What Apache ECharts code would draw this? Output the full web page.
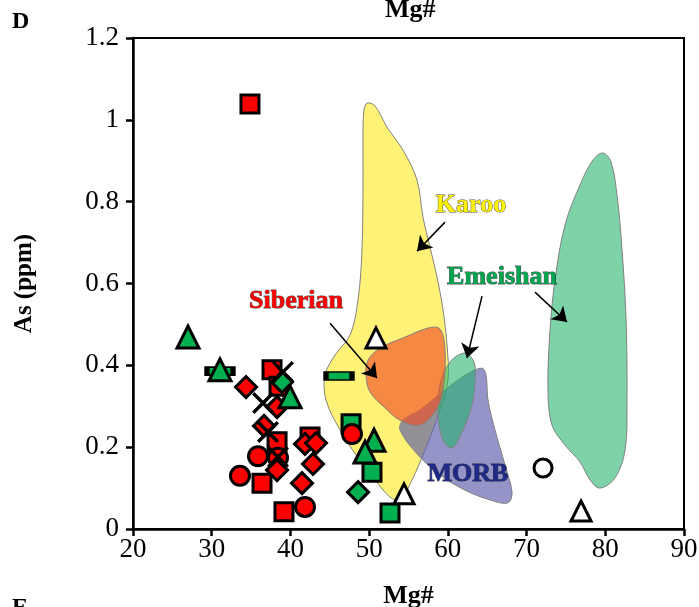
<!DOCTYPE html>
<html><head><meta charset="utf-8">
<script src="https://cdn.jsdelivr.net/npm/echarts@6/dist/echarts.min.js"></script>
<style>html,body{margin:0;padding:0;background:#fff}#c{width:699px;height:607px}</style>
</head><body><div id="c"></div>
<script>
// ---------- data (Mg#, As ppm) ----------
const redSquares   = [[34.86,1.039],[37.66,0.389],[38.55,0.349],[38.30,0.213],[36.39,0.112],[39.18,0.042],[42.49,0.225]];
const redCircles   = [[33.59,0.130],[35.88,0.178],[38.42,0.174],[47.82,0.232],[41.85,0.054]];
const redDiamonds  = [[34.36,0.347],[38.30,0.298],[36.64,0.252],[38.30,0.144],[41.85,0.208],[43.25,0.210],[42.87,0.159],[41.47,0.112]];
const greenSquares = [[47.70,0.257],[50.36,0.139],[52.65,0.039]];
const greenDashes  = [[46.17,0.374],[31.05,0.386]];
const greenTriangles = [[26.99,0.469],[31.05,0.389],[39.95,0.323],[50.62,0.217],[49.48,0.188]];
const greenDiamonds = [[38.93,0.359],[48.59,0.090]];
const crosses      = [[39.06,0.384],[36.52,0.308],[37.15,0.237],[38.42,0.176]];
const whiteTriangles = [[50.87,0.467],[54.43,0.086],[76.92,0.044]];
const whiteCircles = [[72.09,0.149]];

// field outlines
const karooField = [[49.22,0.975],[49.35,1.024],[49.73,1.041],[50.75,1.034],[52.27,0.982],[54.30,0.926],[56.08,0.853],[56.84,0.762],[57.73,0.689],[58.62,0.616],[59.39,0.535],[59.89,0.450],[60.02,0.364],[59.00,0.291],[57.10,0.193],[55.45,0.120],[53.92,0.071],[52.65,0.078],[50.75,0.120],[48.59,0.174],[46.30,0.242],[44.52,0.315],[44.39,0.376],[45.66,0.425],[47.57,0.474],[48.59,0.560],[49.09,0.682],[49.22,0.853]];
const siberianField = [[59.00,0.489],[59.64,0.437],[59.39,0.340],[58.50,0.291],[56.46,0.254],[53.92,0.266],[52.02,0.296],[50.11,0.335],[49.60,0.376],[49.86,0.413],[51.38,0.442],[54.56,0.469],[57.48,0.491]];
const emeishanSmall = [[62.18,0.430],[63.32,0.408],[63.45,0.364],[63.07,0.303],[61.80,0.237],[60.53,0.198],[59.39,0.217],[58.75,0.279],[59.00,0.352],[60.27,0.408]];
const morbField = [[64.34,0.393],[64.85,0.376],[65.10,0.315],[65.99,0.242],[67.26,0.156],[68.15,0.090],[67.64,0.064],[65.36,0.071],[62.18,0.095],[59.00,0.132],[56.21,0.181],[53.92,0.242],[54.30,0.266],[56.46,0.291],[59.64,0.340],[62.18,0.376]];
const emeishanLarge = [[79.71,0.919],[80.73,0.897],[81.49,0.816],[82.13,0.682],[82.64,0.511],[82.76,0.315],[82.51,0.193],[81.24,0.125],[79.33,0.100],[78.06,0.120],[76.79,0.164],[74.88,0.205],[73.23,0.254],[72.72,0.340],[72.98,0.486],[73.61,0.608],[74.88,0.743],[76.79,0.841],[78.44,0.902]];

// labels and arrows
const labelNames  = ['Karoo','Emeishan','Siberian','MORB'];
const labelPos    = [[62.94,0.792],[66.88,0.616],[40.71,0.557],[62.56,0.134]];
const labelColors = ['#FFF200','#00A550','#FF0000','#1F2A8A'];
const arrows = [[59.64,0.750,56.08,0.679],[45.03,0.503,51.0,0.369],[64.34,0.569,62.43,0.418],[71.07,0.579,75.14,0.506]];

const xTicks = [20,30,40,50,60,70,80,90];
const yTicks = [0,0.2,0.4,0.6,0.8,1,1.2];

const SERIF = '"Liberation Serif","Times New Roman",serif';
const chart = echarts.init(document.getElementById('c'), null, {renderer:'canvas'});

function field(pts, fill, z){
  return {type:'custom', z:z, silent:true, clip:true,
    renderItem:(params, api)=>({type:'polygon',
      shape:{points: pts.map(p=>api.coord(p)), smooth:0.35},
      style:{fill:fill, stroke:'#808080', lineWidth:1}}),
    data:[pts[0]]};
}
const crossPath = 'path://M0,1.1L1.1,0L10,8.9L8.9,10ZM8.9,0L10,1.1L1.1,10L0,8.9Z';
function sc(data, symbol, size, color, z, bw){
  return {type:'scatter', data:data, symbol:symbol, symbolSize:size, z:z, silent:true,
    itemStyle:{color:color, borderColor:'#000', borderWidth: bw===undefined?3:bw, opacity:1}};
}

chart.setOption({
  animation:false,
  grid:{left:133, right:15, top:38, bottom:78, outerBoundsMode:'none', containLabel:false,
    show:true, borderColor:'#000', borderWidth:2, backgroundColor:'transparent'},
  xAxis:{type:'value', min:xTicks[0], max:xTicks[xTicks.length-1], interval:10,
    name:'Mg#', nameLocation:'middle', nameGap:54,
    nameTextStyle:{fontFamily:SERIF, fontWeight:'bold', fontSize:26, color:'#000'},
    axisLine:{show:true, lineStyle:{color:'#000', width:2.5}},
    axisTick:{show:true, inside:false, length:7, lineStyle:{color:'#000', width:2.5}},
    axisLabel:{fontFamily:SERIF, fontSize:27, color:'#000', margin:7},
    splitLine:{show:false}},
  yAxis:{type:'value', min:yTicks[0], max:yTicks[yTicks.length-1], interval:0.2,
    name:'As (ppm)', nameLocation:'middle', nameGap:96, nameRotate:90,
    nameTextStyle:{fontFamily:SERIF, fontWeight:'bold', fontSize:25, color:'#000'},
    axisLine:{show:true, lineStyle:{color:'#000', width:2.5}},
    axisTick:{show:true, inside:false, length:7, lineStyle:{color:'#000', width:2.5}},
    axisLabel:{fontFamily:SERIF, fontSize:27, color:'#000', margin:14},
    splitLine:{show:false}},
  graphic:[
    {type:'text', left:385, top:-3, style:{text:'Mg#', font:'bold 26px '+SERIF, fill:'#000'}},
    {type:'text', left:12, top:10, style:{text:'D', font:'bold 24px '+SERIF, fill:'#000'}},
    {type:'text', left:12, top:596, style:{text:'E', font:'bold 24px '+SERIF, fill:'#000'}}
  ],
  series:[
    field(karooField, 'rgba(255,236,60,0.7)', 1),
    field(morbField, 'rgba(90,90,170,0.65)', 2),
    field(emeishanSmall, 'rgba(40,180,110,0.6)', 3),
    field(siberianField, 'rgba(240,80,40,0.65)', 4),
    field(emeishanLarge, 'rgba(40,180,110,0.6)', 5),
    {type:'lines', coordinateSystem:'cartesian2d', z:6, silent:true,
      data: arrows.map(a=>({coords:[[a[0],a[1]],[a[2],a[3]]]})),
      symbol:['none','arrow'], symbolSize:[11,14],
      lineStyle:{color:'#000', width:1.5, opacity:1}},
    {type:'custom', z:7, silent:true,
      renderItem:(params, api)=>{
        const p = api.coord([api.value(0), api.value(1)]);
        return {type:'text', x:p[0], y:p[1], style:{text:labelNames[params.dataIndex],
          font:'bold 26px '+SERIF, fill:labelColors[params.dataIndex], align:'center', verticalAlign:'middle',
          stroke:'rgba(0,0,0,0.7)', lineWidth:1, shadowColor:'#000', shadowOffsetX:1.5, shadowOffsetY:1.5, shadowBlur:0}};
      },
      data: labelPos},
    sc(greenSquares, 'rect', 18, '#00B050', 10),
    sc(redSquares, 'rect', 18, '#FF0000', 11),
    sc(redCircles, 'circle', 19, '#FF0000', 12),
    sc(redDiamonds, 'diamond', 21, '#FF0000', 13),
    sc(greenDashes, 'rect', [26,8], '#00B050', 14),
    sc(greenTriangles, 'triangle', 22, '#00B050', 15),
    sc(greenDiamonds, 'diamond', 21, '#00B050', 16),
    sc(crosses, crossPath, 22, '#000', 17, 0),
    sc(whiteTriangles, 'triangle', 20, '#FFFFFF', 18),
    sc(whiteCircles, 'circle', 18, '#FFFFFF', 18)
  ]
});
</script></body></html>
